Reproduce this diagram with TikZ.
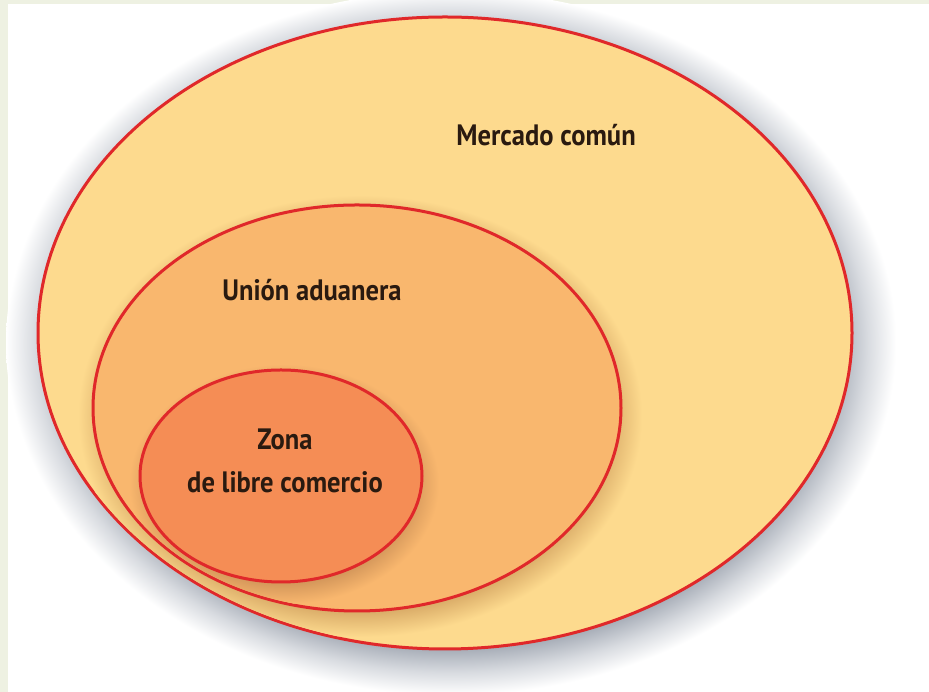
\documentclass[tikz,border=0pt]{standalone}
\usepackage{fontspec}
\setmainfont{PT Sans}
\usetikzlibrary{shapes.geometric}
\definecolor{bgstrip}{HTML}{EEF1E2}
\definecolor{ringred}{HTML}{E0282A}
\definecolor{fillA}{HTML}{FDDA8E}
\definecolor{fillB}{HTML}{F9B76E}
\definecolor{fillC}{HTML}{F58D55}
\definecolor{txt}{HTML}{2A1A10}
\definecolor{shA}{HTML}{A9AFB9}
\definecolor{shAm}{HTML}{D8DBE0}
\definecolor{shB}{HTML}{D6A764}
\definecolor{shC}{HTML}{D3965A}
\pgfdeclareradialshading{outershadow}{\pgfpoint{0bp}{0bp}}{color(0bp)=(shA); color(21.8bp)=(shA); color(23.4bp)=(shAm); color(25bp)=(white); color(50bp)=(white)}
\pgfdeclareradialshading{midshadow}{\pgfpoint{0bp}{0bp}}{color(0bp)=(shB); color(21.8bp)=(shB); color(25bp)=(fillA); color(50bp)=(fillA)}
\pgfdeclareradialshading{innershadow}{\pgfpoint{0bp}{0bp}}{color(0bp)=(shC); color(20.5bp)=(shC); color(25bp)=(fillB); color(50bp)=(fillB)}
\tikzset{
  ring/.style={ellipse, draw=ringred, line width=3pt, inner sep=0pt, outer sep=0pt},
  label/.style={font=\bfseries\fontsize{29.5}{43}\selectfont, text=txt, align=center, inner sep=0pt},
}
\begin{document}
\begin{tikzpicture}[x=1pt,y=1pt]
\useasboundingbox (0,0) rectangle (929,692);
\fill[white] (0,0) rectangle (929,692);
\fill[bgstrip] (0,688) rectangle (929,692);
\fill[bgstrip] (0,0) rectangle (8,692);
\coordinate (cmc) at (445,359);
\coordinate (cua) at (357,284);
\coordinate (czl) at (281,216);
% outer ring and its shadow
\path[shading=outershadow] ([shift={(6,-10)}]cmc) ellipse [x radius=445pt, y radius=352pt];
\node[ring, fill=fillA, minimum width=814pt, minimum height=632pt] (mc) at (cmc) {};
% middle ring and its shadow
\begin{scope}
  \clip (cmc) ellipse [x radius=405.5pt, y radius=314.5pt];
  \path[shading=midshadow] ([shift={(3,-8)}]cua) ellipse [x radius=282pt, y radius=221pt];
\end{scope}
\node[ring, fill=fillB, minimum width=528pt, minimum height=406pt] (ua) at (cua) {};
% inner ring and its shadow
\begin{scope}
  \clip (cua) ellipse [x radius=262.5pt, y radius=201.5pt];
  \path[shading=innershadow] ([shift={(3,-8)}]czl) ellipse [x radius=155pt, y radius=120pt];
\end{scope}
\node[ring, fill=fillC, minimum width=282pt, minimum height=212pt] (zl) at (czl) {};
\node[label] (tmc) at (546,557) {\scalebox{0.9}[1]{Mercado común}};
\node[label] (tua) at (312,402) {\scalebox{0.9}[1]{Unión aduanera}};
\node[label] (tzl) at (285,231) {\scalebox{0.9}[1]{Zona}\\\scalebox{0.9}[1]{de libre comercio}};
\end{tikzpicture}
\end{document}
